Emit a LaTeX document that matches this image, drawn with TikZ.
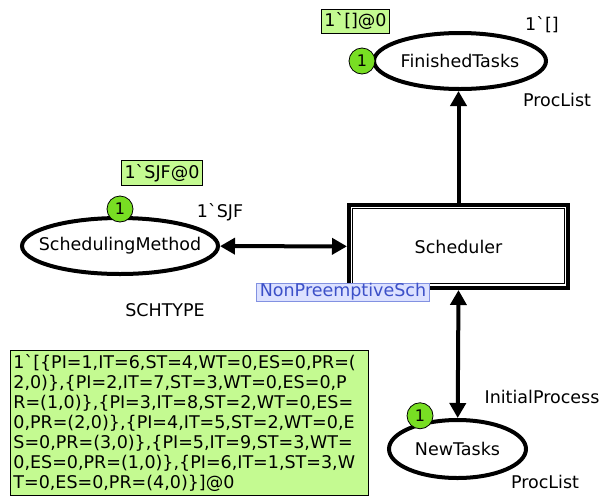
\documentclass[tikz,border=0pt]{standalone}
\usepackage{fontspec}
\setmainfont{DejaVu Sans}
\usepackage{tikz}
\usetikzlibrary{shapes.geometric, arrows.meta, positioning}
\definecolor{tokenGreen}{RGB}{120, 222, 35}
\definecolor{markGreen}{RGB}{196, 250, 145}
\definecolor{subBlue}{RGB}{220, 225, 255}
\definecolor{subBorder}{RGB}{130, 145, 225}
\definecolor{subText}{RGB}{60, 80, 200}
\newcommand{\bq}{\textasciigrave}

\begin{document}
\begin{tikzpicture}[x=1pt, y=-1pt,
				every node/.style = {font=\fontsize{17.5}{20}\selectfont},
				place/.style      = {draw, ellipse, line width=4pt, inner sep=0pt, fill=white,
					execute at begin node={\hbox to 0pt\bgroup\hss}, execute at end node={\hss\egroup}},
				trans/.style      = {draw, rectangle, line width=4pt, minimum width=219pt,
					minimum height=83pt, fill=white},
				token/.style      = {draw, circle, fill=tokenGreen, line width=0.8pt, inner sep=0pt,
					minimum size=26pt, font=\fontsize{16}{18}\selectfont},
				marking/.style    = {draw, fill=markGreen, line width=0.8pt, inner xsep=3pt, inner ysep=3.5pt},
				inscr/.style      = {inner sep=0pt},
				arc/.style        = {line width=4pt, -{Triangle[length=15pt, width=16pt]}},
				biarc/.style      = {line width=4pt, {Triangle[length=15pt, width=16pt]}-{Triangle[length=15pt, width=16pt]}}
				]
				\useasboundingbox (0,0) rectangle (600,499);
				
				\node[place, minimum width=172pt, minimum height=56pt] (finished) at (460, 61) {FinishedTasks};
				\node[place, minimum width=196pt, minimum height=56pt] (schmethod) at (120, 246) {SchedulingMethod};
				\node[place, minimum width=137pt, minimum height=58pt] (newtasks) at (457.5, 449) {NewTasks};
				\node[trans] (sched) at (458.5, 246.5) {Scheduler};
				\draw[line width=1.2pt] ([shift={(5.5pt,-5.5pt)}]sched.north west) rectangle ([shift={(-5.5pt,6.5pt)}]sched.south east);
				
				\node[token] (tokfinished) at ([xshift=-10pt]finished.west) {1};
				\node[token] (tokschmethod) at ([yshift=7pt]schmethod.north) {1};
				\node[token] (toknewtasks) at ([yshift=7pt]newtasks.145) {1};
				
				\node[marking] (markfinished) at (355.5, 21.5) {1\bq[]@0};
				\node[marking] (markschmethod) at (162, 173) {1\bq SJF@0};
				\node[marking, anchor=north west, text width=352pt, align=left, inner ysep=4pt]
				(marknewtasks) at (10, 350) {1\bq[\{PI=1,IT=6,ST=4,WT=0,ES=0,PR=(\\
					2,0)\},\{PI=2,IT=7,ST=3,WT=0,ES=0,P\\
					R=(1,0)\},\{PI=3,IT=8,ST=2,WT=0,ES=\\
					0,PR=(2,0)\},\{PI=4,IT=5,ST=2,WT=0,E\\
					S=0,PR=(3,0)\},\{PI=5,IT=9,ST=3,WT=\\
					0,ES=0,PR=(1,0)\},\{PI=6,IT=1,ST=3,W\\
					T=0,ES=0,PR=(4,0)\}]@0};
				
				\node[draw=subBorder, fill=subBlue, text=subText, line width=0.8pt, inner xsep=3pt, inner ysep=0.5pt]
				(subpage) at (343, 292) {NonPreemptiveSch};
				
				\node[inscr] (initfinished) at (542, 25) {1\bq[]};
				\node[inscr] (typefinished) at (557, 100) {ProcList};
				\node[inscr] (initschmethod) at (220, 212) {1\bq SJF};
				\node[inscr] (typeschmethod) at (165, 310) {SCHTYPE};
				\node[inscr] (arcnewtasks) at (542, 397) {InitialProcess};
				\node[inscr] (typenewtasks) at (545, 482) {ProcList};
				
				\draw[arc] (sched.north) -- (sched.north |- finished.south);
				\draw[biarc] (schmethod) -- (sched);
				\draw[biarc] (sched.south) -- (newtasks);
			\end{tikzpicture}
\end{document}
